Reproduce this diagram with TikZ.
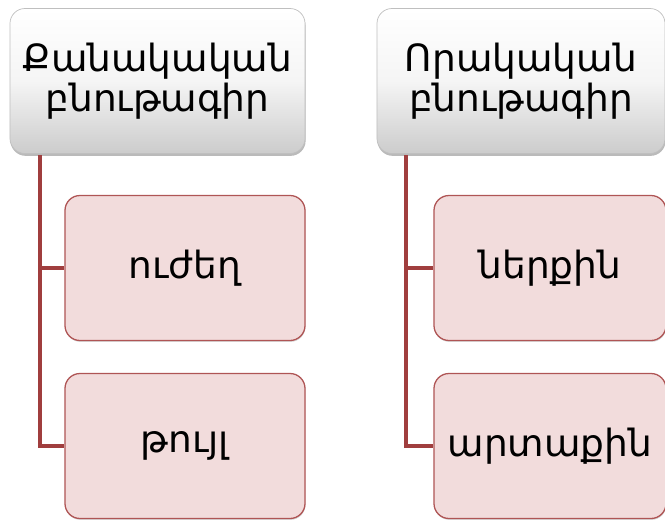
\documentclass[tikz,border=0pt]{standalone}
\usepackage{fontspec}
\setmainfont{DejaVu Sans}
\usepackage{tikz}
\usetikzlibrary{shadows}
\definecolor{leafpink}{RGB}{242,220,220}
\definecolor{leafedge}{RGB}{175,85,85}
\definecolor{branchred}{RGB}{160,62,62}
\colorlet{headedge}{black!25}

\begin{document}
\begin{tikzpicture}[x=0.03cm, y=-0.03cm,
    head/.style={draw=headedge, line width=0.6pt, rounded corners=0.45cm,
        top color=white, bottom color=black!20, middle color=black!4,
        drop shadow={shadow xshift=0.5pt, shadow yshift=-2pt, fill=black!45, opacity=0.6},
        align=center, font=\fontsize{32}{34}\selectfont, inner sep=0pt},
    leaf/.style={draw=leafedge, line width=1.1pt, rounded corners=0.45cm, fill=leafpink,
        drop shadow={shadow xshift=0.4pt, shadow yshift=-1.2pt, fill=black!30, opacity=0.5},
        align=center, font=\fontsize{32}{34}\selectfont, inner sep=0pt,
        minimum height=4.35cm},
    branch/.style={branchred, line width=3.4pt}]
    \useasboundingbox (0,0) rectangle (665,522);
        % top boxes
        \node[head, minimum width=8.85cm, minimum height=4.35cm] (qanak) at (157.5,81) {Քանակական\\բնութագիր};
        \node[head, minimum width=8.64cm, minimum height=4.35cm] (vorak) at (521,81) {Որակական\\բնութագիր};
        % trunks
        \coordinate (qtrunk) at (40,155);
        \coordinate (vtrunk) at (406,155);
        % left leaves
        \foreach \n/\y/\t in {uzhegh/268/ուժեղ, touyl/446/թույլ}{
            \node[leaf, minimum width=7.2cm] (\n) at (185,\y) {\t};
        }
        % right leaves
        \foreach \n/\y/\t in {nerqin/268/ներքին, artaqin/446/արտաքին}{
            \node[leaf, minimum width=6.96cm] (\n) at (550,\y) {\t};
        }
        \draw[branch] (qtrunk) |- (touyl.west);
        \draw[branch] (qtrunk |- uzhegh.west) -- (uzhegh.west);
        \draw[branch] (vtrunk) |- (artaqin.west);
        \draw[branch] (vtrunk |- nerqin.west) -- (nerqin.west);
\end{tikzpicture}
\end{document}
